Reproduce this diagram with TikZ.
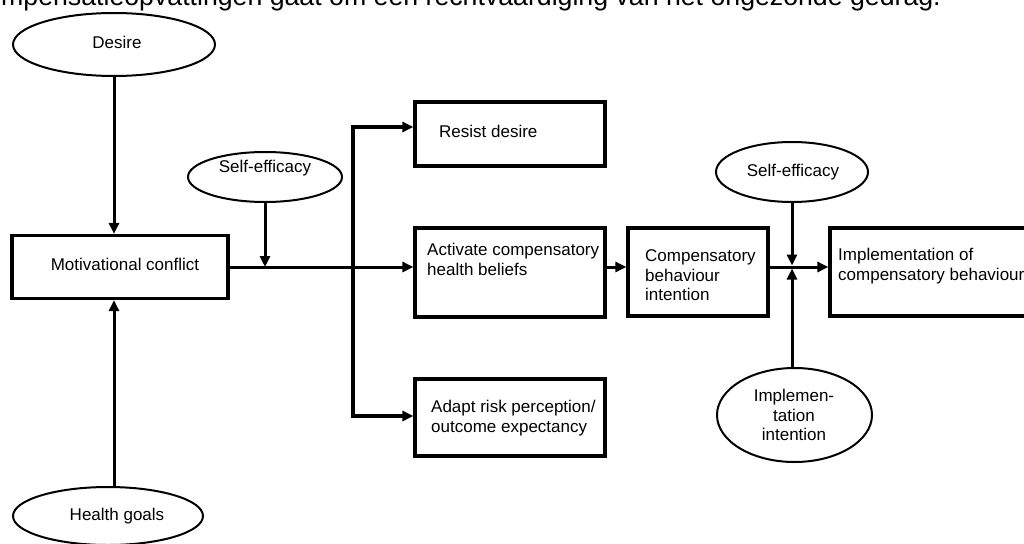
\documentclass[tikz,border=0pt]{standalone}
\usepackage{fontspec}
\setmainfont{Liberation Sans}
\usetikzlibrary{shapes.geometric,arrows.meta}

\newcommand{\labelfont}{\fontsize{17}{19.5}\selectfont}
\tikzset{
  box/.style={draw, line width=3.2pt, inner sep=0pt},
  oval/.style={draw, ellipse, line width=2pt, inner sep=0pt},
  txt/.style={inner sep=0pt, align=left, font=\labelfont},
  link/.style={line width=3pt, -{Triangle[length=11pt,width=10pt]}},
}

\begin{document}
\begin{tikzpicture}[x=1pt,y=-1pt]
        \useasboundingbox (0,0) rectangle (1024,543);

        % Afgesneden tekstregel.
        \node[anchor=base west, inner sep=0pt, font=\fontsize{26.7}{30}\selectfont]
            (caption) at (1,6) {mpensatieopvattingen gaat om een rechtvaardiging van het ongezonde gedrag.};

        % Ellipsen.
        \node[oval, minimum width=202pt, minimum height=63pt] (desire) at (114,44.5) {};
        \node[oval, minimum width=190pt, minimum height=58pt] (health) at (108,516) {};
        \node[oval, minimum width=154pt, minimum height=50pt] (se1) at (265,177) {};
        \node[oval, minimum width=152pt, minimum height=60pt] (se2) at (792,172) {};
        \node[oval, minimum width=155pt, minimum height=94pt] (ii) at (794.5,415) {};

        \node[txt] (desire-txt) at (117,42) {Desire};
        \node[txt] (health-txt) at (117,516) {Health goals};
        \node[txt] (se1-txt) at (265,168) {Self-efficacy};
        \node[txt] (se2-txt) at (793,172) {Self-efficacy};
        \node[txt, align=center] (ii-txt) at (794,415) {Implemen-\\tation\\intention};

        % Blokken.
        \node[box, minimum width=216pt, minimum height=63pt] (mc) at (120,267) {};
        \node[box, minimum width=190pt, minimum height=64pt] (resist) at (510,134) {};
        \node[box, minimum width=190pt, minimum height=89pt] (activate) at (510,272.5) {};
        \node[box, minimum width=190pt, minimum height=77pt] (adapt) at (510,417.5) {};
        \node[box, minimum width=140pt, minimum height=88pt] (cbi) at (698,272) {};
        \node[box, minimum width=220pt, minimum height=88pt] (impl) at (940,272) {};

        \node[txt] (mc-txt) at (125,264) {Motivational conflict};
        \node[txt, anchor=west] (resist-txt) at (439,131) {Resist desire};
        \node[txt, anchor=west] (activate-txt) at (427,259.5) {Activate compensatory\\health beliefs};
        \node[txt, anchor=west] (adapt-txt) at (431,418) {Adapt risk perception/\\outcome expectancy};
        \node[txt, anchor=west] (cbi-txt) at (645,275.5) {Compensatory\\behaviour\\intention};
        \node[txt, anchor=west] (impl-txt) at (838,266) {Implementation of\\compensatory behaviour};

        % Pijlen.
        \draw[link] (desire.south) -- (desire.south |- mc.north);
        \draw[link] (health.north -| desire.south) -- (desire.south |- mc.south);
        \draw[link] (mc.east) -- (mc.east -| activate.west);
        \draw[link] (se1.south) -- (se1.south |- mc.east);

        \coordinate (bar-top) at (353,127);
        \coordinate (bar-bot) at (353,416);
        \draw[line width=3.6pt, line join=miter,
              {Triangle[length=11pt,width=10pt]}-{Triangle[length=11pt,width=10pt]}]
            (resist.west |- bar-top) -- (bar-top) -- (bar-bot) -- (adapt.west |- bar-bot);

        \coordinate (join) at (se2.south |- mc.east);
        \draw[link] (activate.east |- mc.east) -- (cbi.west |- mc.east);
        \draw[link] (cbi.east |- mc.east) -- (impl.west |- mc.east);
        \draw[link, shorten >=1.5pt] (se2.south) -- (join);
        \draw[link, shorten >=1.5pt] (ii.north -| se2.south) -- (join);
    \end{tikzpicture}
\end{document}
